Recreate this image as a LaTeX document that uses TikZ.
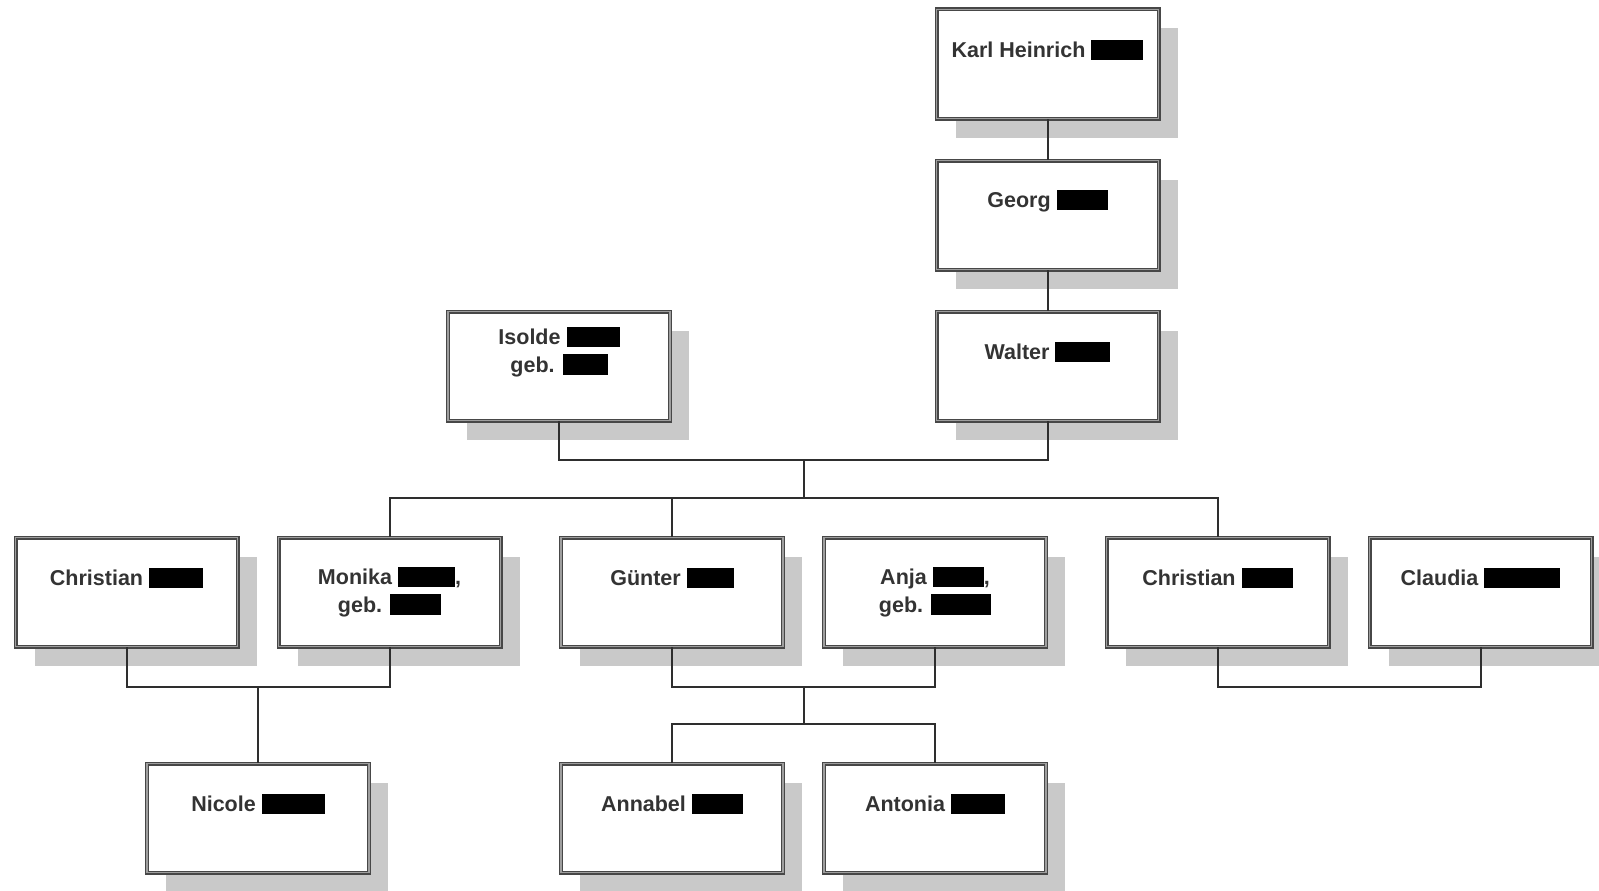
\documentclass[tikz,border=0pt]{standalone}
\usepackage{fontspec}
\setmainfont{Liberation Sans}
\usetikzlibrary{shadows}
\newcommand\blk[1]{\textcolor{black}{\rule[-2.5pt]{#1pt}{20.5pt}}}
\newcommand\person[5][42]{%
  \node[pbox] (#2) at (#3,#4+56) {};
  \node[ptext] (#2t) at (#3,#4+#1) {#5};}
\begin{document}
\begin{tikzpicture}[x=1pt,y=-1pt,
  pbox/.style={rectangle, minimum width=222pt, minimum height=109pt, inner sep=0pt,
    fill=white, draw=black!72, line width=1.1pt, double=black!38, double distance=1.8pt,
    drop shadow={shadow xshift=19pt, shadow yshift=-19pt, fill=black!21, opacity=1}},
  ptext/.style={inner sep=0pt, align=center, text=black!80,
    font=\fontsize{21.5}{27.5}\selectfont\bfseries},
  conn/.style={draw=black!82, line width=2pt}]
\useasboundingbox (0,0) rectangle (1599,891);
\person{karl}{1047.5}{8}{Karl Heinrich \blk{52}}
\person{georg}{1047.5}{159}{Georg \blk{51}}
\person{walter}{1047.5}{310}{Walter \blk{55}}
\person{isolde}{559}{310}{Isolde \blk{53}\\geb. \blk{45}}
\person{christianA}{126.5}{536}{Christian \blk{54}}
\person[56]{monika}{389.5}{536}{Monika \blk{57},\\geb. \blk{51}}
\person{guenter}{672}{536}{Günter \blk{47}}
\person[56]{anja}{935}{536}{Anja \blk{51},\\geb. \blk{60}}
\person{christianB}{1217.5}{536}{Christian \blk{51}}
\person{claudia}{1480.5}{536}{Claudia \blk{76}}
\person{nicole}{258}{762}{Nicole \blk{63}}
\person{annabel}{672}{762}{Annabel \blk{51}}
\person{antonia}{935}{762}{Antonia \blk{54}}
\coordinate (j1) at (803.5,460);
\coordinate (j2) at (803.5,498);
\coordinate (j3) at (258,686.5);
\coordinate (j4) at (803.5,686.5);
\coordinate (j5) at (803.5,724);
\coordinate (j6) at (1349,686.5);
\draw[conn] (karl.south) -- (georg.north);
\draw[conn] (georg.south) -- (walter.north);
\draw[conn] (isolde.south) |- (j1) -| (walter.south);
\draw[conn] (j1) -- (j2);
\draw[conn] (monika.north) |- (j2) -| (christianB.north);
\draw[conn] (guenter.north) |- (j2);
\draw[conn] (christianA.south) |- (j3) -| (monika.south);
\draw[conn] (j3) -- (nicole.north);
\draw[conn] (guenter.south) |- (j4) -| (anja.south);
\draw[conn] (j4) -- (j5);
\draw[conn] (annabel.north) |- (j5) -| (antonia.north);
\draw[conn] (christianB.south) |- (j6) -| (claudia.south);
\end{tikzpicture}
\end{document}
